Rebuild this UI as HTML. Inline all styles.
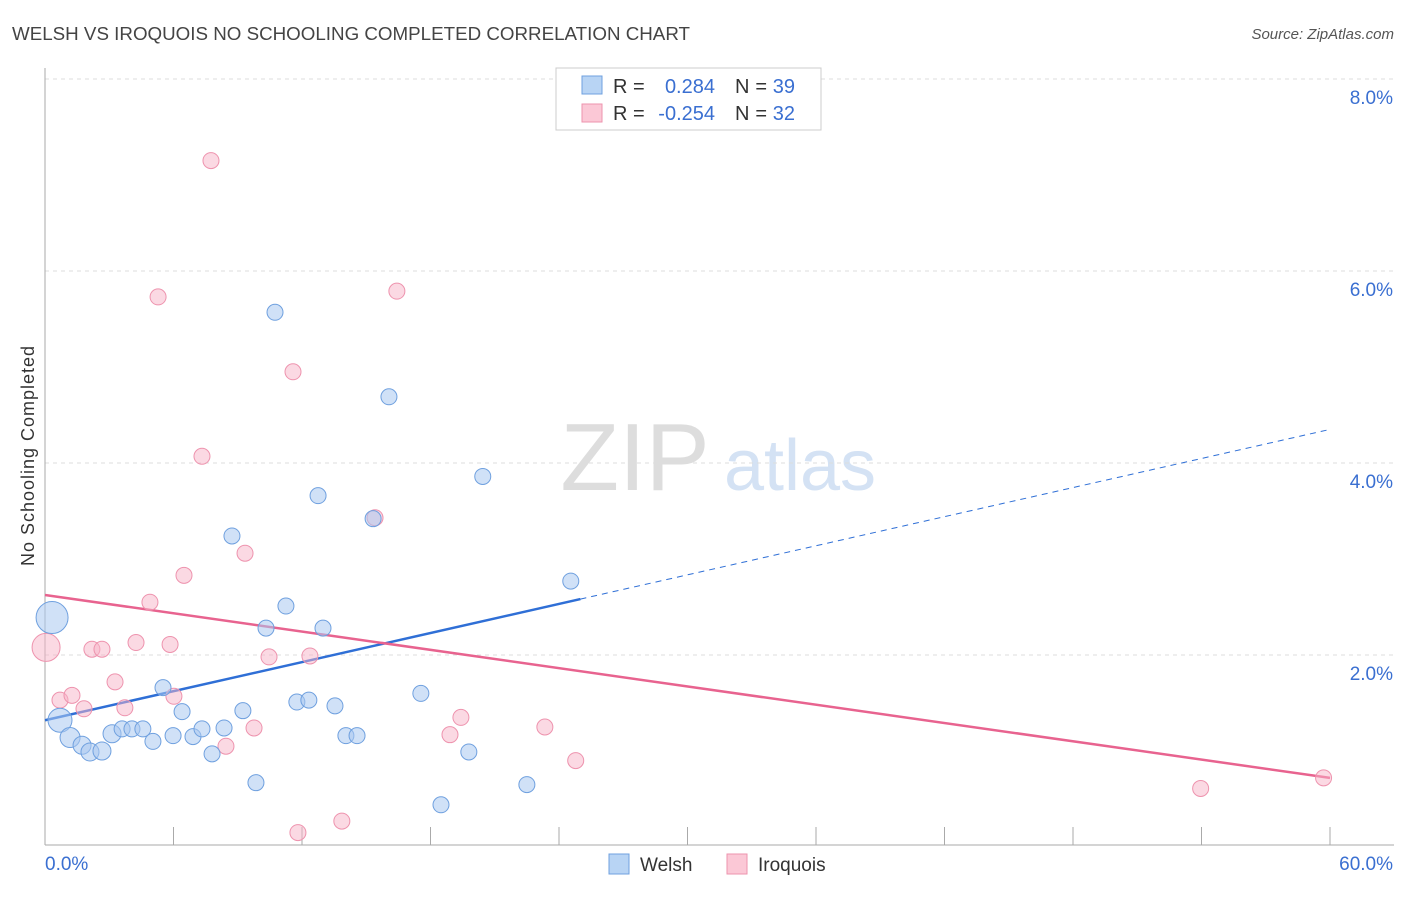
<!DOCTYPE html>
<html><head><meta charset="utf-8"><style>
body{margin:0;background:#fff;font-family:"Liberation Sans",sans-serif;}
svg text{font-family:"Liberation Sans",sans-serif;}
</style></head><body>
<svg id="chart" width="1406" height="892">
<text x="12" y="40" font-size="18" fill="#444" textLength="678" lengthAdjust="spacingAndGlyphs">WELSH VS IROQUOIS NO SCHOOLING COMPLETED CORRELATION CHART</text>
<text x="1394" y="39" font-size="15" fill="#555" font-style="italic" text-anchor="end">Source: ZipAtlas.com</text>
<text x="34" y="456" font-size="18" fill="#333" transform="rotate(-90 34 456)" text-anchor="middle" textLength="220">No Schooling Completed</text>
<g><text x="635" y="490" font-size="96" fill="#ddd" font-family="Liberation Serif" text-anchor="middle">ZIP</text><text x="800" y="490" font-size="72" fill="#d4e2f4" text-anchor="middle">atlas</text></g>
<g id="grid"></g><g id="axes"></g><g id="trends"></g><g id="points"></g>
<g>
<rect x="556" y="68" width="265" height="62" fill="#fff" stroke="#ccc"/>
<rect x="582" y="76" width="20" height="18" fill="#b8d4f4" stroke="#6fa0df"/>
<rect x="582" y="104" width="20" height="18" fill="#fbc8d6" stroke="#ee93ae"/>
<text x="613" y="93" font-size="20" fill="#333">R =</text>
<text x="715" y="93" font-size="20" fill="#3a6fd1" text-anchor="end">0.284</text>
<text x="735" y="93" font-size="20" fill="#333" textLength="32">N =</text>
<text x="795" y="93" font-size="20" fill="#3a6fd1" text-anchor="end">39</text>
<text x="613" y="120" font-size="20" fill="#333">R =</text>
<text x="715" y="120" font-size="20" fill="#3a6fd1" text-anchor="end">-0.254</text>
<text x="735" y="120" font-size="20" fill="#333" textLength="32">N =</text>
<text x="795" y="120" font-size="20" fill="#3a6fd1" text-anchor="end">32</text>
</g>
<g>
<rect x="609" y="854" width="20" height="20" fill="#b8d4f4" stroke="#6fa0df"/>
<text x="640" y="871" font-size="19" fill="#333">Welsh</text>
<rect x="727" y="854" width="20" height="20" fill="#fbc8d6" stroke="#ee93ae"/>
<text x="758" y="871" font-size="19" fill="#333">Iroquois</text>
</g>
</svg>
<script>
const welshX=[0.33,0.7,1.17,1.73,2.1,2.66,3.13,3.6,4.06,4.57,5.04,5.51,5.98,6.4,6.91,7.33,7.8,8.36,8.73,9.24,9.85,10.32,10.74,11.25,11.76,12.32,12.75,12.98,13.54,14.05,14.57,15.32,16.06,17.55,18.49,19.79,20.44,22.5,24.55];
const welshY=[2.39,1.32,1.14,1.06,0.99,1.0,1.18,1.23,1.23,1.23,1.10,1.66,1.16,1.41,1.15,1.23,0.97,1.24,3.24,1.42,0.67,2.28,5.57,2.51,1.51,1.53,3.66,2.28,1.47,1.16,1.16,3.42,4.69,1.60,0.44,0.99,3.86,0.65,2.77];
const welshR=[16,12,10,9,9,9,9,8,8,8,8,8,8,8,8,8,8,8,8,8,8,8,8,8,8,8,8,8,8,8,8,8,8,8,8,8,8,8,8];
const iroX=[0.05,0.7,1.26,1.82,2.19,2.66,3.27,3.73,4.25,4.9,5.28,5.84,6.02,6.49,7.33,7.75,8.45,9.34,9.76,10.46,11.58,11.81,12.37,13.86,15.41,16.43,18.91,19.42,23.34,24.78,53.96,59.7];
const iroY=[2.08,1.53,1.58,1.44,2.06,2.06,1.72,1.45,2.13,2.55,5.73,2.11,1.57,2.83,4.07,7.15,1.05,3.06,1.24,1.98,4.95,0.15,1.99,0.27,3.43,5.79,1.17,1.35,1.25,0.90,0.61,0.72];
const iroR=[14,8,8,8,8,8,8,8,8,8,8,8,8,8,8,8,8,8,8,8,8,8,8,8,8,8,8,8,8,8,8,8];
const yTicks=[2,4,6,8];
const xTickLabels=["0.0%","60.0%"];
const welshTrend=[1.32,4.35];
const iroTrend=[2.625,0.72];
const NS="http://www.w3.org/2000/svg";
const sx=v=>45+v*1285/60, sy=v=>847-v*96;
function mk(p,t,a){const e=document.createElementNS(NS,t);for(const k in a)e.setAttribute(k,a[k]);document.getElementById(p).appendChild(e);return e;}
yTicks.forEach(t=>{
 const l=mk('grid','line',{x1:45,x2:1394,y1:sy(t),y2:sy(t),stroke:'#ddd','stroke-dasharray':'4,4'});
 
 
 const tx=mk('grid','text',{x:1393,y:sy(t)+25,'font-size':19,fill:'#3a6fd1','text-anchor':'end'});tx.textContent=t.toFixed(1)+'%';
 
 
});
let a=mk('axes','line',{x1:45,x2:45,y1:68,y2:845,stroke:'#aaa'});


a=mk('axes','line',{x1:45,x2:1394,y1:845,y2:845,stroke:'#aaa'});


for(let i=0;i<=10;i++){const t=mk('axes','line',{x1:sx(i*6),x2:sx(i*6),y1:827,y2:845,stroke:'#aaa'});
 
 }
[[0,'start',45],[60,'end',1393]].forEach((d,i)=>{const t=mk('axes','text',{x:d[2],y:870,'font-size':19,fill:'#3a6fd1','text-anchor':d[1]});t.textContent=xTickLabels[i];
 
 });
const bAt=v=>welshTrend[0]+(welshTrend[1]-welshTrend[0])*v/60;
let tl=mk('trends','line',{x1:sx(0),y1:sy(bAt(0)),x2:sx(25),y2:sy(bAt(25)),stroke:'#2f6fd6','stroke-width':2.5});


tl=mk('trends','line',{x1:sx(25),y1:sy(bAt(25)),x2:sx(60),y2:sy(bAt(60)),stroke:'#2f6fd6','stroke-width':1,'stroke-dasharray':'6,5'});


tl=mk('trends','line',{x1:sx(0),y1:sy(iroTrend[0]),x2:sx(60),y2:sy(iroTrend[1]),stroke:'#e8638f','stroke-width':2.5});


iroX.forEach((x,i)=>{const c=mk('points','circle',{cx:sx(x),cy:sy(iroY[i]),r:iroR[i],fill:'rgba(248,180,200,0.5)',stroke:'#ee93ae','stroke-width':1});
 
 });
welshX.forEach((x,i)=>{const c=mk('points','circle',{cx:sx(x),cy:sy(welshY[i]),r:welshR[i],fill:'rgba(170,200,240,0.55)',stroke:'#6fa0df','stroke-width':1});
 
 });
</script>
</body></html>
